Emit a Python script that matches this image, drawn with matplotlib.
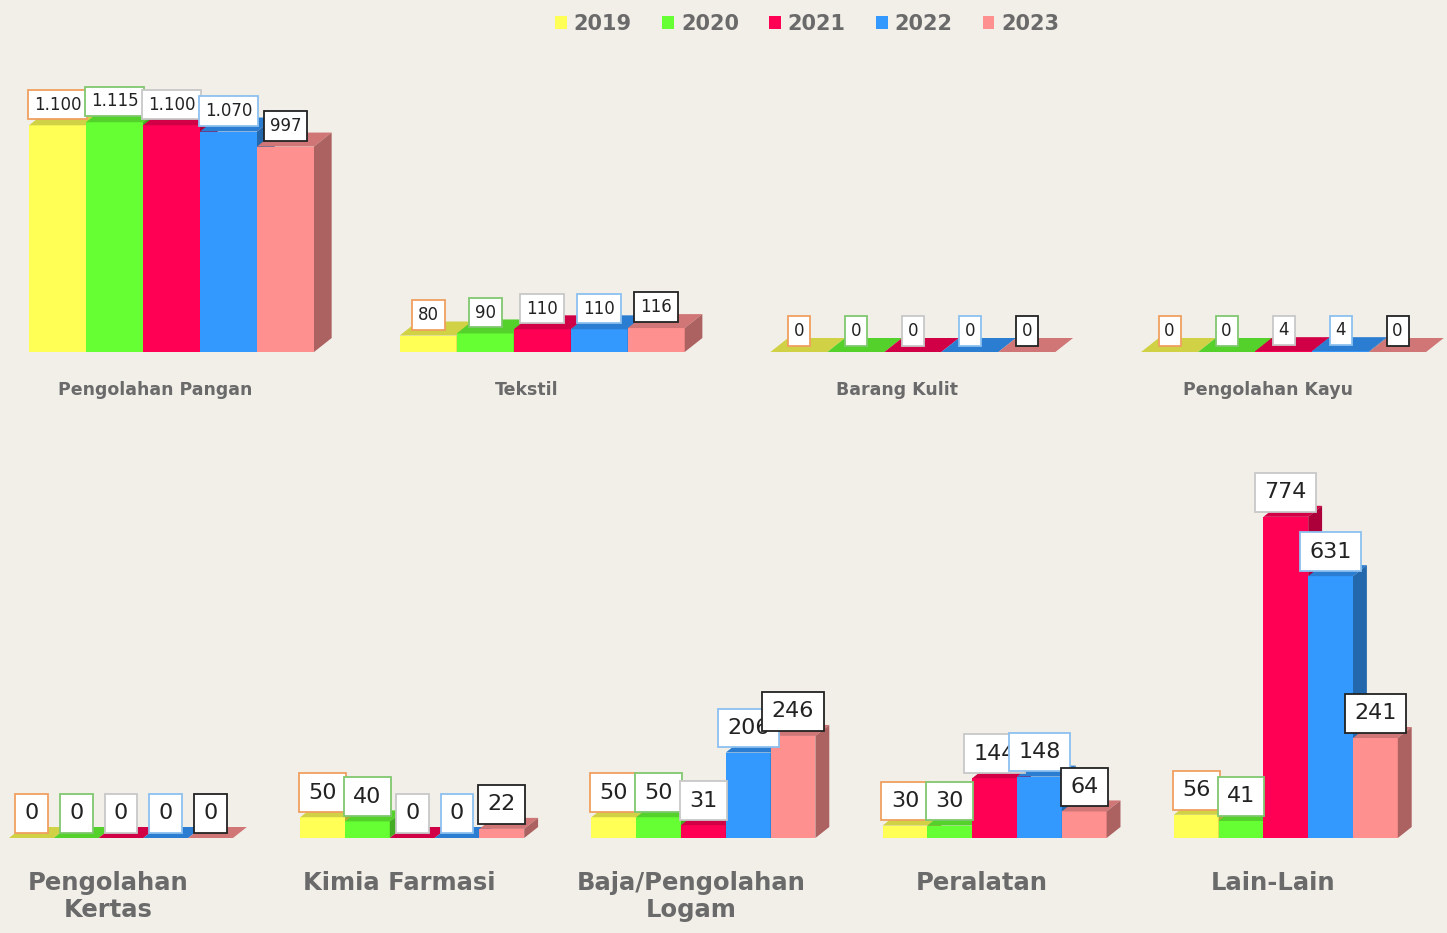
import matplotlib.pyplot as plt
from matplotlib.patches import Polygon, Patch
from matplotlib.colors import to_rgb

W, H = 1447, 933

years = ['2019', '2020', '2021', '2022', '2023']
categories = ['Pengolahan Pangan', 'Tekstil', 'Barang Kulit', 'Pengolahan Kayu',
              'Pengolahan\nKertas', 'Kimia Farmasi', 'Baja/Pengolahan\nLogam',
              'Peralatan', 'Lain-Lain']

v2019 = [1100, 80, 0, 0, 0, 50, 50, 30, 56]
v2020 = [1115, 90, 0, 0, 0, 40, 50, 30, 41]
v2021 = [1100, 110, 0, 4, 0, 0, 31, 144, 774]
v2022 = [1070, 110, 0, 4, 0, 0, 206, 148, 631]
v2023 = [997, 116, 0, 0, 0, 22, 246, 64, 241]
series = [v2019, v2020, v2021, v2022, v2023]

colors = ['#ffff55', '#66ff33', '#ff0055', '#3399ff', '#ff9090']
label_edges = ['#f0a060', '#80c870', '#c8c8c8', '#8cc0f0', '#222222']
bg = '#f2efe9'
text_gray = '#6a6a6a'


def shade(c, f):
    r, g, b = to_rgb(c)
    return (r * f, g * f, b * f)


# row layout in pixels: first bar left edge, panel step, bar width, baseline, axes top, value at axes top
rows = [
    dict(cats=range(0, 4), x0=29, step=370.7, bw=57, base=352, top=60, ymax=1417,
         depth=14, fs=12, pad=0.35, lab_off=8.5, cat_fs=12.5, cat_off=-27, cat_va='center'),
    dict(cats=range(4, 9), x0=9, step=291.2, bw=44.8, base=838, top=450, ymax=935,
         depth=11, fs=16, pad=0.42, lab_off=10.5, cat_fs=17.5, cat_off=-24, cat_va='top'),
]

fig = plt.figure(figsize=(W / 100, H / 100), dpi=100, facecolor=bg)

for row in rows:
    for k, ci in enumerate(row['cats']):
        left = row['x0'] + k * row['step']
        ax = fig.add_axes([left / W, 1 - row['base'] / H,
                           5.4 * row['bw'] / W, (row['base'] - row['top']) / H])
        ax.set_xlim(0, 5.4)
        ax.set_ylim(0, row['ymax'])
        ax.axis('off')
        ax.patch.set_alpha(0)

        dx = 0.31
        dy = row['depth'] * row['ymax'] / (row['base'] - row['top'])

        for i in range(5):
            v = series[i][ci]
            c = colors[i]
            z = 2 + i * 3
            ax.bar(i, v, width=1, align='edge', color=c, linewidth=0,
                   zorder=z, clip_on=False)
            top = Polygon([(i, v), (i + 1, v), (i + 1 + dx, v + dy), (i + dx, v + dy)],
                          closed=True, fc=shade(c, 0.82), ec='none', zorder=z + 1,
                          clip_on=False)
            side = Polygon([(i + 1, 0), (i + 1, v), (i + 1 + dx, v + dy), (i + 1 + dx, dy)],
                           closed=True, fc=shade(c, 0.68), ec='none', zorder=z + 2,
                           clip_on=False)
            ax.add_patch(top)
            ax.add_patch(side)

        # value boxes above each bar
        for i in range(5):
            v = series[i][ci]
            txt = f'{v:,}'.replace(',', '.')
            ax.annotate(txt, xy=(i + 0.5, v), xytext=(0, row['lab_off']),
                        textcoords='offset points', ha='center', va='bottom',
                        fontsize=row['fs'], color='#222222', zorder=40 + i,
                        annotation_clip=False,
                        bbox=dict(boxstyle=f"square,pad={row['pad']}", fc='white',
                                  ec=label_edges[i], lw=1.3))

        ax.annotate(categories[ci], xy=(2.22, 0), xytext=(0, row['cat_off']),
                    textcoords='offset points', ha='center', va=row['cat_va'],
                    fontsize=row['cat_fs'], fontweight='bold', color=text_gray,
                    linespacing=1.15, annotation_clip=False)

handles = [Patch(facecolor=c, edgecolor='none', label=y) for c, y in zip(colors, years)]
fig.legend(handles=handles, loc='center', bbox_to_anchor=(0.558, 1 - 24 / H), ncol=5,
           frameon=False, handlelength=0.55, handleheight=0.55, handletextpad=0.35,
           columnspacing=1.45, prop=dict(size=15, weight='bold'), labelcolor=text_gray)

fig.savefig('out.png', dpi=100, facecolor=bg)
